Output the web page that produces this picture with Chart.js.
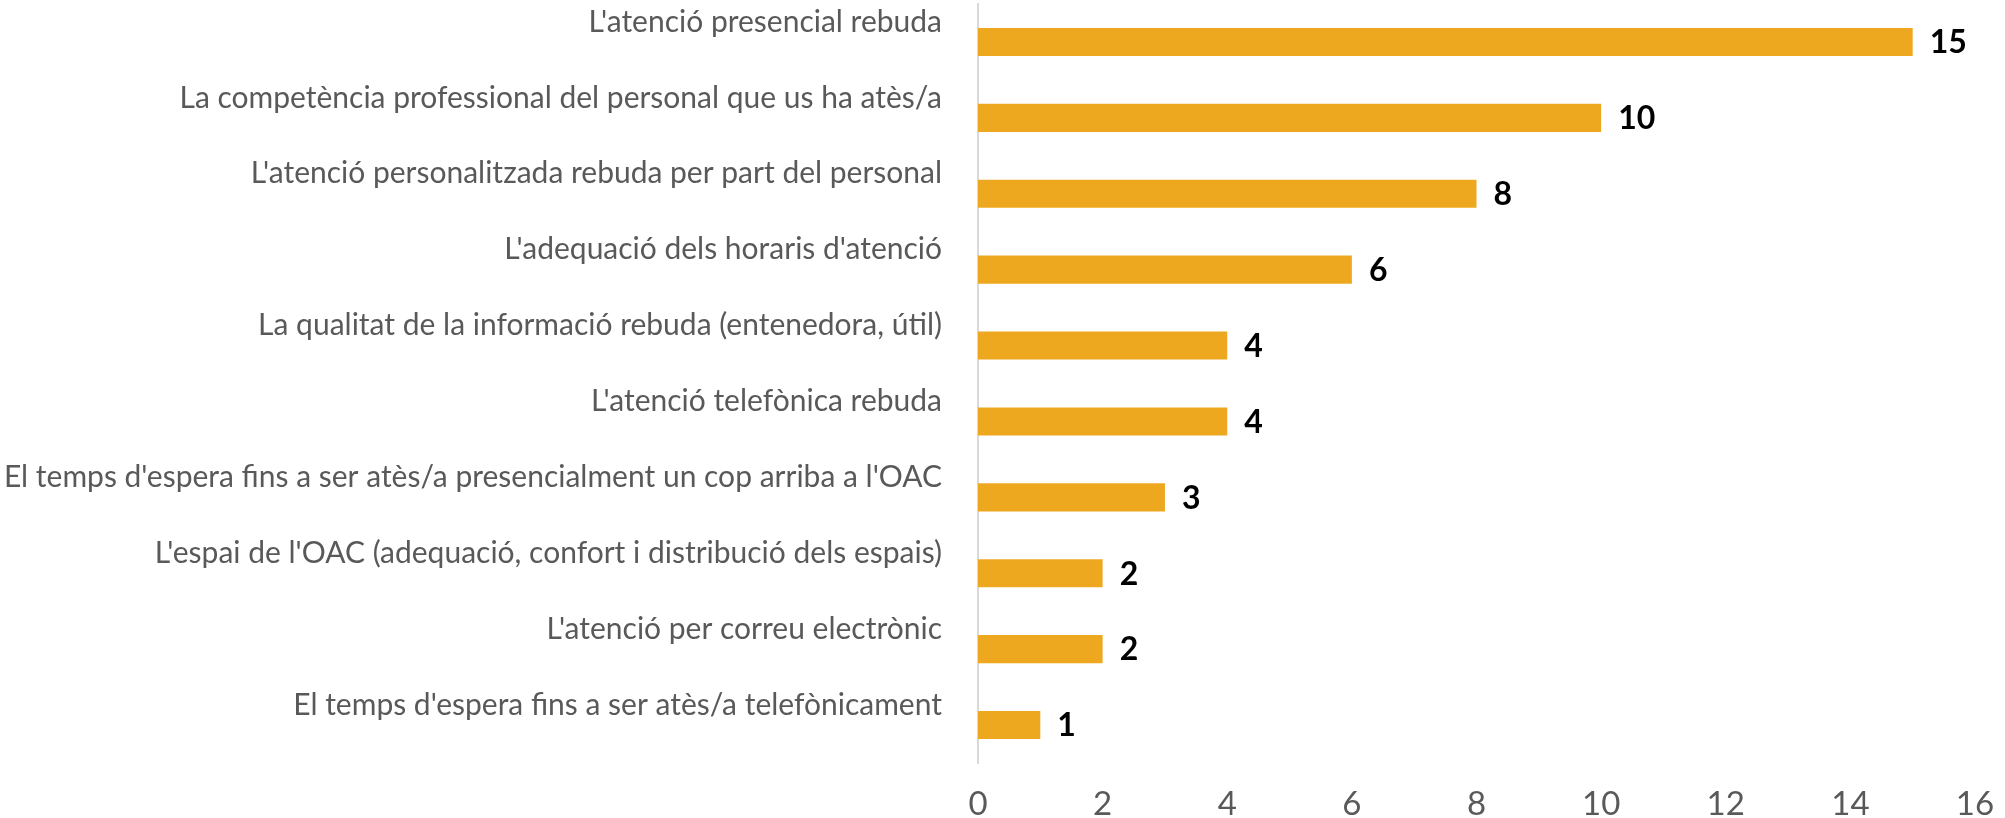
<!DOCTYPE html>
<html>
<head>
<meta charset="utf-8">
<script src="https://cdn.jsdelivr.net/npm/chart.js@4"></script>
<style>
html,body{margin:0;padding:0;background:#fff;}
#wrap{width:2005px;height:818px;position:relative;}
</style>
</head>
<body>
<div id="wrap"><canvas id="c" width="2005" height="818"></canvas></div>
<script>
const categories = [
  "L'atenció presencial rebuda",
  "La competència professional del personal que us ha atès/a",
  "L'atenció personalitzada rebuda per part del personal",
  "L'adequació dels horaris d'atenció",
  "La qualitat de la informació rebuda (entenedora, útil)",
  "L'atenció telefònica rebuda",
  "El temps d'espera fins a ser atès/a presencialment un cop arriba a l'OAC",
  "L'espai de l'OAC (adequació, confort i distribució dels espais)",
  "L'atenció per correu electrònic",
  "El temps d'espera fins a ser atès/a telefònicament"
];
const values = [15, 10, 8, 6, 4, 4, 3, 2, 2, 1];
const xTicks = [0, 2, 4, 6, 8, 10, 12, 14, 16];

const FONT = "Lato, 'Open Sans', sans-serif";
const mctx = document.createElement('canvas').getContext('2d');
mctx.font = "100px " + FONT;
const w100 = mctx.measureText(categories[0]).width;
const fs = Math.max(18, Math.min(34, 100 * 354 / w100));

const labelPlugin = {
  id: 'valueLabels',
  afterDatasetsDraw(chart) {
    const ctx = chart.ctx;
    const meta = chart.getDatasetMeta(0);
    ctx.save();
    ctx.font = "bold " + Math.round(fs * 1.05) + "px " + FONT;
    ctx.fillStyle = '#000';
    ctx.textAlign = 'left';
    ctx.textBaseline = 'middle';
    meta.data.forEach((bar, i) => {
      ctx.fillText(String(values[i]), bar.x + 17, bar.y + 1);
    });
    ctx.restore();
  }
};

new Chart(document.getElementById('c'), {
  type: 'bar',
  data: {
    labels: categories,
    datasets: [{
      data: values,
      backgroundColor: '#EEA820',
      borderWidth: 0,
      categoryPercentage: 1,
      barPercentage: 0.37
    }]
  },
  options: {
    indexAxis: 'y',
    responsive: false,
    animation: false,
    layout: { padding: { top: 4, right: 30, left: 0, bottom: 0 } },
    plugins: { legend: { display: false }, tooltip: { enabled: false } },
    scales: {
      x: {
        min: 0, max: 16,
        afterBuildTicks(scale) { scale.ticks = xTicks.map(v => ({ value: v })); },
        afterFit(scale) { scale.height = 55; scale.paddingLeft = 0; scale.paddingRight = 0; },
        grid: { display: false, drawTicks: false },
        border: { display: false },
        ticks: { color: '#595959', font: { family: FONT, size: Math.round(fs * 1.1) }, padding: 22, maxRotation: 0 }
      },
      y: {
        afterFit(scale) { scale.width = 978; scale.paddingTop = 0; scale.paddingBottom = 0; },
        grid: { display: false, drawTicks: false },
        border: { display: true, color: '#D9D9D9', width: 2 },
        ticks: { color: '#595959', font: { family: FONT, size: Math.round(fs) }, padding: 36, labelOffset: -20, autoSkip: false }
      }
    }
  },
  plugins: [labelPlugin]
});
</script>
</body>
</html>
